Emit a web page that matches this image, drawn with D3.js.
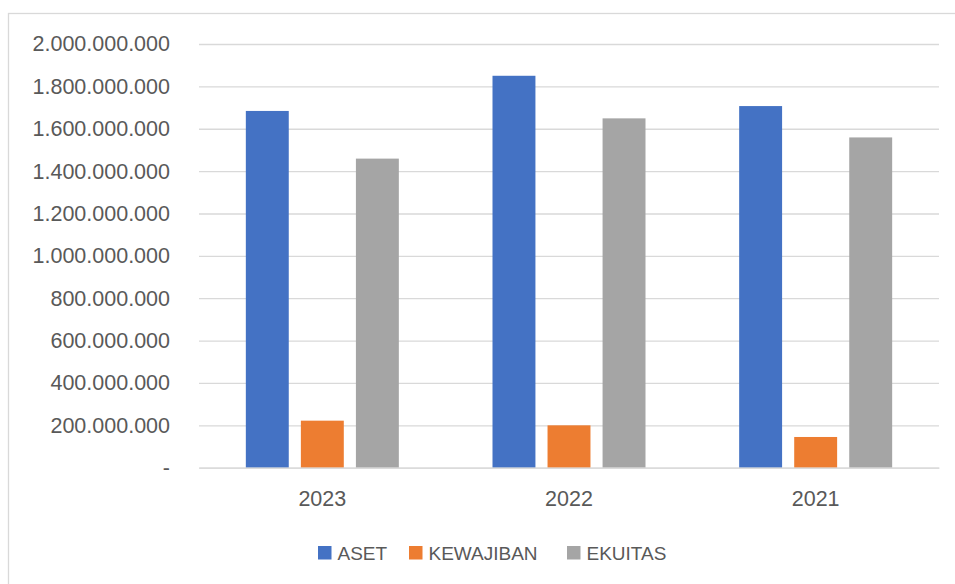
<!DOCTYPE html>
<html><head><meta charset="utf-8">
<script src="https://cdn.jsdelivr.net/npm/d3@7/dist/d3.min.js"></script>
<style>body{margin:0;background:#fff}svg{display:block}</style>
</head><body>
<svg id="chart" width="955" height="584"></svg>
<script>
const categories = ["2023", "2022", "2021"];
const seriesNames = ["ASET", "KEWAJIBAN", "EKUITAS"];
const aset = [1684000000, 1850000000, 1707000000];
const kewajiban = [222000000, 200000000, 145000000];
const ekuitas = [1459000000, 1649000000, 1559000000];
const yTicks = [0, 200000000, 400000000, 600000000, 800000000, 1000000000, 1200000000, 1400000000, 1600000000, 1800000000, 2000000000];
const colors = ["#4472C4", "#ED7D31", "#A5A5A5"];

(function () {
const values = [aset, kewajiban, ekuitas];
const data = categories.map((c, i) => ({cat: c, vals: seriesNames.map((s, j) => ({s, v: values[j][i], j}))}));

const svg = d3.select("#chart");
const font = "'Liberation Sans', Arial, sans-serif";
const textColor = "#595959";

svg.append("rect").attr("x", 8.5).attr("y", 13.5).attr("width", 980).attr("height", 620)
  .attr("fill", "#fff").attr("stroke", "#D9D9D9").attr("stroke-width", 1.3);

const pLeft = 199, pRight = 939, pTop = 44, pBottom = 467.7;
const y = d3.scaleLinear().domain([0, 2000000000]).range([pBottom, pTop]);
const x0 = d3.scaleBand().domain(categories).range([pLeft, pRight]).padding(0);
const groupW = 153;
const x1 = d3.scaleBand().domain(seriesNames)
  .range([(x0.bandwidth() - groupW) / 2, (x0.bandwidth() + groupW) / 2])
  .paddingInner(0.22).paddingOuter(0);

const loc = d3.formatLocale({decimal: ",", thousands: ".", grouping: [3], currency: ["", ""]});
const fmt = v => v === 0 ? "-" : loc.format(",")(v);

const yAxis = d3.axisLeft(y).tickValues(yTicks).tickSize(-(pRight - pLeft)).tickFormat(fmt).tickPadding(29);
const gy = svg.append("g").attr("transform", `translate(${pLeft},0)`).call(yAxis);
gy.select(".domain").remove();
gy.selectAll(".tick line").attr("stroke", "#D9D9D9").attr("stroke-width", 1.3);
gy.selectAll(".tick text").attr("fill", textColor).attr("font-family", font).attr("font-size", "21.5px");

const groups = svg.append("g").selectAll("g").data(data).join("g")
  .attr("transform", d => `translate(${x0(d.cat)},0)`);
groups.selectAll("rect").data(d => d.vals).join("rect")
  .attr("x", d => x1(d.s)).attr("width", x1.bandwidth())
  .attr("y", d => y(d.v)).attr("height", d => y(0) - y(d.v))
  .attr("fill", d => colors[d.j]);

const xAxis = d3.axisBottom(x0).tickSize(0).tickPadding(23);
const gx = svg.append("g").attr("transform", `translate(0,${pBottom})`).call(xAxis);
gx.select(".domain").attr("stroke", "#D9D9D9").attr("stroke-width", 1.3);
gx.selectAll(".tick text").attr("fill", textColor).attr("font-family", font).attr("font-size", "21.5px");

const legendX = [318, 409, 567];
const lg = svg.append("g").selectAll("g").data(seriesNames).join("g")
  .attr("transform", (d, i) => `translate(${legendX[i]},546)`);
lg.append("rect").attr("width", 13.5).attr("height", 13.5).attr("fill", (d, i) => colors[i]);
lg.append("text").attr("x", 19.5).attr("y", 13.5).text(d => d)
  .attr("fill", textColor).attr("font-family", font).attr("font-size", "19px");
})();
</script>
</body></html>
